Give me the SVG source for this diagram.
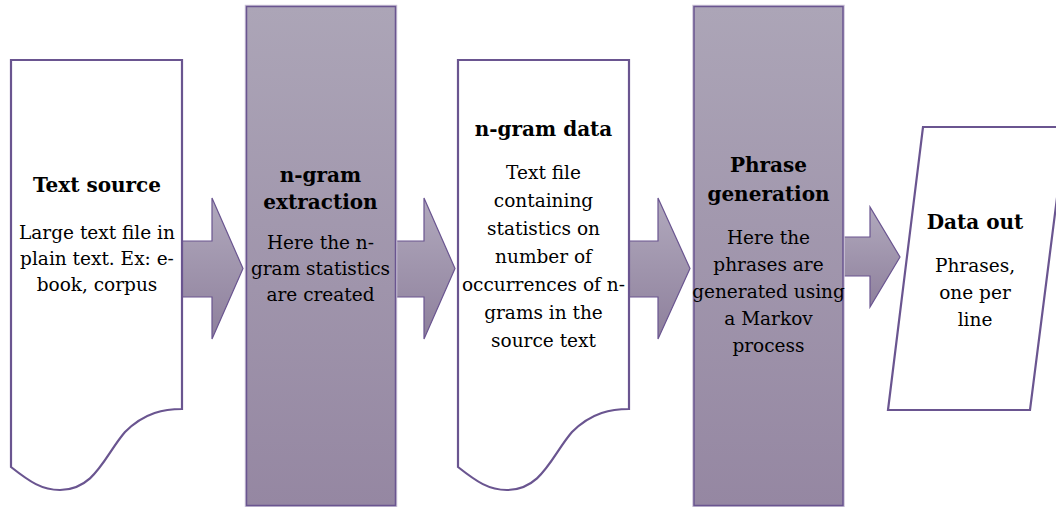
<svg xmlns="http://www.w3.org/2000/svg" width="1056" height="507" viewBox="0 0 1056 507">
<defs>
<linearGradient id="pg" x1="0" y1="0" x2="0" y2="1">
<stop offset="0" stop-color="#aca5b7"/>
<stop offset="1" stop-color="#9587a2"/>
</linearGradient>
<linearGradient id="ag" x1="0" y1="0" x2="0" y2="1">
<stop offset="0" stop-color="#b1a9bd"/>
<stop offset="1" stop-color="#8e809c"/>
</linearGradient>
<style>
.doc{fill:#ffffff;stroke:#6a5590;stroke-width:2.2;stroke-linejoin:miter}
.proc{fill:url(#pg);stroke:#6a5590;stroke-width:1.5}
.halo{fill:none;stroke:#cdc5d8;stroke-width:3.5}
.arr{fill:url(#ag);stroke:#6a5590;stroke-width:1.2;stroke-linejoin:miter}
text{font-family:"DejaVu Serif","Liberation Serif",serif;fill:#000;text-anchor:middle}
.t{font-weight:bold;font-size:20px}
.b{font-size:18.5px}
</style>
</defs>
<rect width="1056" height="507" fill="#ffffff"/>
<g id="connectors">
<path class="arr" d="M182,241 H212 V198 L243,268.5 L212,339 V297 H182 Z"/>
<path class="arr" d="M395,241 H424 V198 L455,268.5 L424,339 V297 H395 Z"/>
<path class="arr" d="M629,241 H658 V198 L690,268.5 L658,339 V297 H629 Z"/>
<path class="arr" d="M843,237 H870 V207 L900,257 L870,307 V276 H843 Z"/>
</g>
<g id="text-source">
<path class="doc" d="M11,60 H182 V409 C165,409 145,412 125,432 C105,455 95,490 60,490 C42,490 30,482 11,467 Z"/>
<text class="t" x="97" y="192">Text source</text>
<text class="b" x="97" y="239">Large text file in</text>
<text class="b" x="97" y="265">plain text. Ex: e-</text>
<text class="b" x="97" y="291">book, corpus</text>
</g>
<g id="ngram-extraction">
<rect class="halo" x="246.5" y="6.5" width="149" height="499"/>
<rect class="proc" x="246.5" y="6.5" width="149" height="499"/>
<text class="t" x="320.5" y="182">n-gram</text>
<text class="t" x="320.5" y="209">extraction</text>
<text class="b" x="320.5" y="249">Here the n-</text>
<text class="b" x="320.5" y="275">gram statistics</text>
<text class="b" x="320.5" y="301">are created</text>
</g>
<g id="ngram-data">
<path class="doc" d="M458,60 H629 V409 C612,409 592,412 572,432 C552,455 542,490 507,490 C489,490 477,482 458,467 Z"/>
<text class="t" x="543.5" y="136">n-gram data</text>
<text class="b" x="543.5" y="179">Text file</text>
<text class="b" x="543.5" y="207">containing</text>
<text class="b" x="543.5" y="235">statistics on</text>
<text class="b" x="543.5" y="263">number of</text>
<text class="b" x="543.5" y="291">occurrences of n-</text>
<text class="b" x="543.5" y="319">grams in the</text>
<text class="b" x="543.5" y="347">source text</text>
</g>
<g id="phrase-generation">
<rect class="halo" x="694" y="6.5" width="149" height="499"/>
<rect class="proc" x="694" y="6.5" width="149" height="499"/>
<text class="t" x="768.5" y="172">Phrase</text>
<text class="t" x="768.5" y="201">generation</text>
<text class="b" x="768.5" y="244">Here the</text>
<text class="b" x="768.5" y="271">phrases are</text>
<text class="b" x="768.5" y="298">generated using</text>
<text class="b" x="768.5" y="325">a Markov</text>
<text class="b" x="768.5" y="352">process</text>
</g>
<g id="data-out">
<path class="doc" d="M923,127 H1066 L1030,410 H888 Z"/>
<text class="t" x="975" y="229">Data out</text>
<text class="b" x="975" y="272">Phrases,</text>
<text class="b" x="975" y="299">one per</text>
<text class="b" x="975" y="326">line</text>
</g>
</svg>
